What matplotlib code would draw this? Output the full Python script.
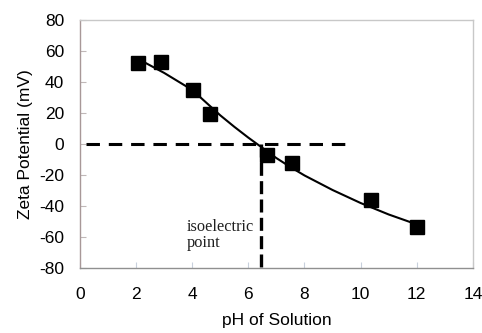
import matplotlib.pyplot as plt

plt.rcParams['font.family'] = ['Liberation Sans', 'DejaVu Sans']
plt.rcParams['axes.unicode_minus'] = False

# measured zeta potential vs pH
ph = [2.05, 2.87, 4.04, 4.63, 6.68, 7.55, 10.36, 12.02]
zeta = [52.5, 52.8, 34.7, 19.5, -7.0, -12.2, -36.0, -54.0]

# smoothed trend curve drawn through the measurements
curve_ph = [2.26, 3.0, 4.0, 4.5, 5.0, 5.5, 6.0, 6.5, 7.0, 7.5, 8.0, 9.0, 10.0, 11.0, 12.0]
curve_zeta = [53.0, 45.8, 34.8, 26.6, 18.4, 11.0, 4.0, -2.6, -9.2, -15.0, -20.4, -29.8, -38.2, -45.6, -52.0]

iep = 6.45  # isoelectric point
x_ticks = [0, 2, 4, 6, 8, 10, 12, 14]
y_ticks = [-80, -60, -40, -20, 0, 20, 40, 60, 80]

fig = plt.figure(figsize=(4.82, 3.33), dpi=100)
ax = fig.add_axes([0.166, 0.196, 0.815, 0.744])

ax.plot(curve_ph, curve_zeta, color='black', lw=1.5, zorder=3)
ax.plot(ph, zeta, ls='none', marker='s', ms=10.5, color='black', zorder=4)

# zero line and isoelectric point marker
ax.plot([0.2, 9.5], [0, 0], color='black', lw=2.2, dashes=(4.4, 2.9), zorder=2)
ax.plot([iep, iep], [0, -80.6], color='black', lw=2.4, dashes=(3.9, 1.6), zorder=2,
        clip_on=False)
ax.text(3.8, -59.0, 'isoelectric\npoint', family='Liberation Serif', fontsize=11.8,
        va='center', linespacing=1.0, color='#202020')

ax.set_xlim(0, 14)
ax.set_ylim(-80, 80)
ax.set_xticks(x_ticks)
ax.set_yticks(y_ticks)
ax.tick_params(axis='both', direction='in', length=4, width=0.8, labelsize=12.5)
ax.tick_params(axis='x', colors='#c8d0dc', labelcolor='black', pad=14)
ax.tick_params(axis='y', colors='#c0b8b8', labelcolor='black', pad=11.5)

ax.spines['left'].set_color('#a89898')
ax.spines['bottom'].set_color('#909090')
ax.spines['top'].set_color('#c8c8c8')
ax.spines['right'].set_color('#c8c8c8')
for s in ax.spines.values():
    s.set_linewidth(1.0)

ax.set_xlabel('pH of Solution', fontsize=12.5, labelpad=8)
ax.set_ylabel('Zeta Potential (mV)', fontsize=12.5, labelpad=4)

fig.savefig('out.png', dpi=100)
